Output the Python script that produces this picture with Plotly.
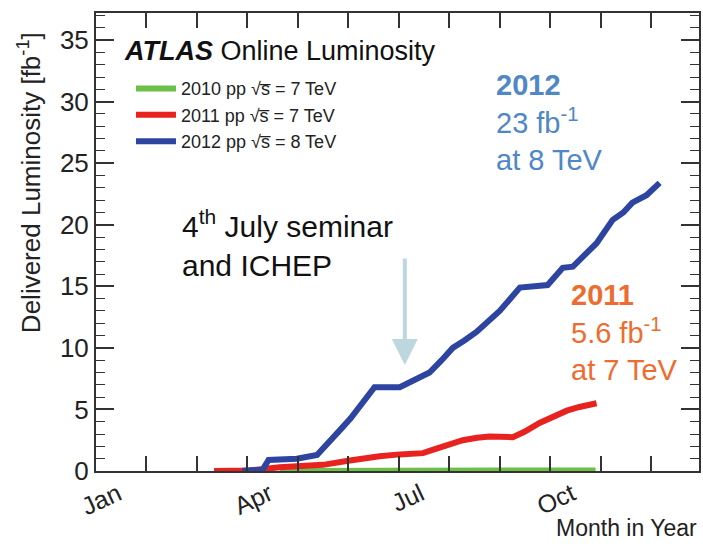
import plotly.graph_objects as go

# x values are fractional months since Jan 1 (0 = Jan 1, 12 = Dec 31)
month_ticks = list(range(12))
month_labels = ["Jan", "", "", "Apr", "", "", "Jul", "", "", "Oct", "", ""]

x2010 = [3.64, 4.5, 5.5, 6.5, 7.5, 8.5, 9.9]
y2010 = [0.0, 0.01, 0.02, 0.03, 0.04, 0.045, 0.048]

x2011 = [2.34, 3.05, 3.64, 4.1, 4.5, 5.03, 5.3, 5.62, 6.02, 6.48, 6.7, 6.95, 7.27, 7.55, 7.8, 8.26,
         8.5, 8.79, 9.05, 9.33, 9.58, 9.92]
y2011 = [0.0, 0.05, 0.3, 0.4, 0.5, 0.85, 1.05, 1.2, 1.35, 1.45, 1.75, 2.1, 2.5, 2.7, 2.8, 2.75,
         3.2, 3.9, 4.4, 4.9, 5.2, 5.5]

x2012 = [2.9, 3.3, 3.42, 3.98, 4.38, 4.6, 4.83, 5.05, 5.3, 5.52, 6.02, 6.42, 6.61, 6.85, 7.07, 7.3,
         7.54, 8.0, 8.4, 8.95, 9.25, 9.45, 9.7, 9.92, 10.24, 10.45, 10.63, 10.91, 11.17]
y2012 = [0.02, 0.1, 0.9, 1.0, 1.3, 2.2, 3.3, 4.3, 5.6, 6.8, 6.8, 7.6, 8.0, 9.0, 10.0, 10.6,
         11.3, 13.0, 14.9, 15.1, 16.5, 16.6, 17.6, 18.5, 20.4, 21.0, 21.8, 22.4, 23.4]

names = ["2010 pp √s\u0305 = 7 TeV",
         "2011 pp √s\u0305 = 7 TeV",
         "2012 pp √s\u0305 = 8 TeV"]
colors = ["#6cbf47", "#e8231f", "#2d44a0"]

FONT = "Liberation Sans, Arial, sans-serif"

fig = go.Figure()
for i, (xs, ys) in enumerate([(x2010, y2010), (x2011, y2011), (x2012, y2012)]):
    fig.add_trace(go.Scatter(x=xs, y=ys, mode="lines", name=names[i],
                             legendgroup=str(i),
                             line=dict(color=colors[i], width=6)))

fig.update_layout(
    width=703, height=544,
    margin=dict(l=96, r=2, t=13, b=73),
    plot_bgcolor="white", paper_bgcolor="white",
    font=dict(family=FONT, color="#222"),
    showlegend=True,
    legend=dict(x=0.058, y=0.875, xanchor="left", yanchor="top",
                bgcolor="rgba(0,0,0,0)", font=dict(size=18, color="#222"),
                tracegroupgap=0, itemwidth=40),
    xaxis=dict(range=[0, 11.95], tickvals=month_ticks, ticktext=month_labels,
               ticks="inside", ticklen=15, tickwidth=1.5, tickcolor="#333",
               showline=True, linecolor="#333", linewidth=2, mirror="allticks",
               showgrid=False, zeroline=False, tickangle=-25,
               tickfont=dict(size=25, color="#222"), ticklabelshift=22,
               ticklabelstandoff=-3),
    yaxis=dict(range=[0, 37.2], tickvals=[0, 5, 10, 15, 20, 25, 30, 35],
               ticks="inside", ticklen=18, tickwidth=1.5, tickcolor="#333",
               minor=dict(dtick=1, ticks="inside", ticklen=9, tickcolor="#333", tickwidth=1.2),
               showline=True, linecolor="#333", linewidth=2, mirror="allticks",
               showgrid=False, zeroline=False,
               tickfont=dict(size=26, color="#222")),
)

ann = []
ann.append(dict(xref="paper", yref="paper", x=-0.11, y=0.63, textangle=-90,
                text="Delivered Luminosity [fb<sup>-1</sup>]", showarrow=False,
                font=dict(size=26, color="#222"), xanchor="center", yanchor="middle"))
ann.append(dict(xref="paper", yref="paper", x=1.0, y=-0.157, xanchor="right", yanchor="bottom",
                text="Month in Year", showarrow=False, font=dict(size=23, color="#222")))
ann.append(dict(xref="paper", yref="paper", x=0.043, y=0.955, xanchor="left", yanchor="top",
                text="<b><i>ATLAS</i></b> Online Luminosity", showarrow=False,
                font=dict(size=27, color="#111")))
ann.append(dict(xref="paper", yref="paper", x=0.66, y=0.882, xanchor="left", yanchor="top",
                align="left", showarrow=False,
                text="<b>2012</b><br>23 fb<sup>-1</sup><br>at 8 TeV",
                font=dict(size=29, color="#4f87c7")))
ann.append(dict(xref="paper", yref="paper", x=0.785, y=0.424, xanchor="left", yanchor="top",
                align="left", showarrow=False,
                text="<b>2011</b><br>5.6 fb<sup>-1</sup><br>at 7 TeV",
                font=dict(size=29, color="#ec6d2f")))
ann.append(dict(xref="paper", yref="paper", x=0.14, y=0.585, xanchor="left", yanchor="top",
                align="left", showarrow=False,
                text="4<sup>th</sup> July seminar<br>and ICHEP",
                font=dict(size=30, color="#111")))
ann.append(dict(x=6.12, y=8.6, xref="x", yref="y", text="", showarrow=True,
                ax=0, ay=-108, arrowhead=2, arrowsize=1.3, arrowwidth=4,
                arrowcolor="#bcd7de"))
fig.update_layout(annotations=ann)

fig.write_html("out.html")
